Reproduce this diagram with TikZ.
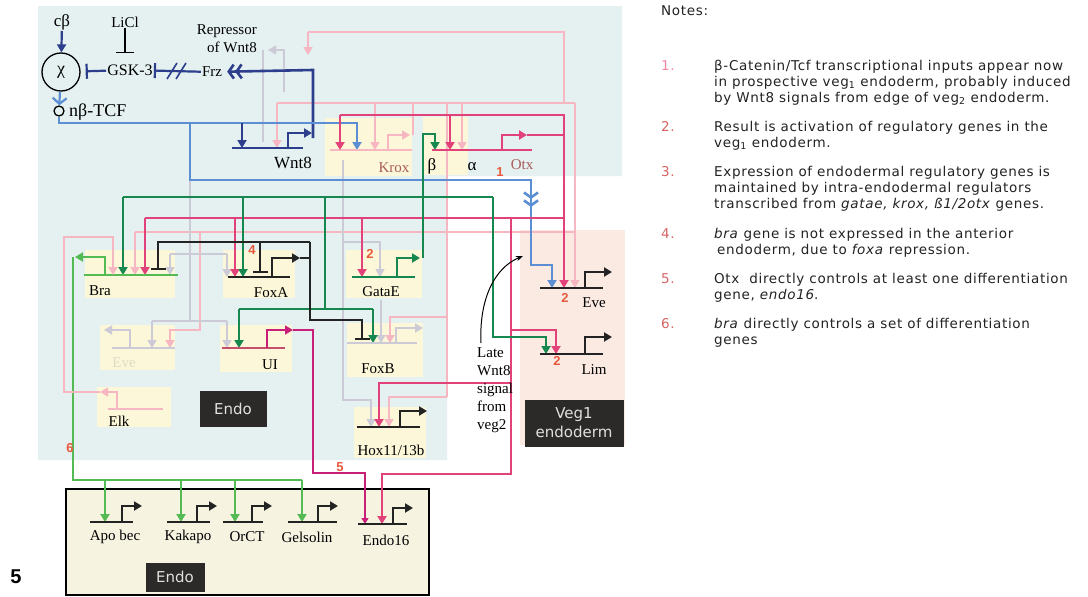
\documentclass[tikz,border=0pt]{standalone}
\usepackage{fontspec}
\setmainfont{Liberation Serif}
\newfontfamily\notesfont[LetterSpace=5]{DejaVu Sans}
\newfontfamily\tagfont{DejaVu Sans}
\newfontfamily\figfont{Liberation Sans}
\usetikzlibrary{arrows.meta}

\definecolor{bgcyan}{RGB}{228,241,240}
\definecolor{peach}{RGB}{251,234,226}
\definecolor{genebox}{RGB}{251,247,216}
\definecolor{endofill}{RGB}{246,243,225}
\definecolor{navy}{RGB}{45,62,140}
\definecolor{sky}{RGB}{92,142,212}
\definecolor{dgreen}{RGB}{22,135,78}
\definecolor{lgreen}{RGB}{84,186,84}
\definecolor{rose}{RGB}{226,66,122}
\definecolor{plum}{RGB}{200,32,120}
\definecolor{uiline}{RGB}{196,80,110}
\definecolor{blush}{RGB}{246,182,194}
\definecolor{mist}{RGB}{204,202,214}
\definecolor{evefaint}{RGB}{222,220,200}
\definecolor{numred}{RGB}{232,88,60}
\definecolor{darkbox}{RGB}{43,42,40}
\definecolor{ink}{RGB}{35,35,35}
\definecolor{kroxtxt}{RGB}{170,92,92}
\definecolor{notenum}{RGB}{215,100,100}

\begin{document}
\begin{tikzpicture}[x=1pt,y=-1pt,
    act/.style={-{Triangle[length=8pt,width=9pt]}},
    small act/.style={-{Triangle[length=6pt,width=7pt]}},
    rep/.style={-{Bar[width=15pt]}},
    chev/.style={-{Straight Barb[length=5pt,width=14pt] Straight Barb[length=5pt,width=14pt]}},
    wire/.style={line width=2.2pt},
    thin wire/.style={line width=1.4pt},
    lbl/.style={font=\fontsize{15}{17}\selectfont, inner sep=1pt},
    rednum/.style={font=\figfont\bfseries\fontsize{13}{15}\selectfont, text=numred, inner sep=0pt},
    darktag/.style={fill=darkbox, text=white!88!black, font=\tagfont\fontsize{15}{19}\selectfont, align=center, inner sep=0pt},
    notetext/.style={font=\notesfont\fontsize{13.5}{16}\selectfont, text=ink, align=left, anchor=north west, inner sep=0pt},
    noteno/.style={font=\notesfont\fontsize{13.5}{16}\selectfont, text=notenum, anchor=north west, inner sep=0pt}]

    \useasboundingbox (0,0) rectangle (1088,597);
    \fill[white] (0,0) rectangle (1088,597);

    % fondos
    \fill[bgcyan] (38,6) -- (622,6) -- (622,176) -- (447,176) -- (447,460) -- (38,460) -- cycle;
    \fill[peach] (520,230) rectangle (625,445);
    \draw[line width=1.2pt, fill=endofill] (66,489) rectangle (429,595);

    % cajas de genes
    \foreach \a/\b/\c/\d in {325/118/412/176, 423/117/468/175, 85/250/175/298, 223/250/295/298,
        346/250/422/298, 100/325/175/370, 220/325/292/372, 347/323/423/377, 97/387/171/427, 354/407/426/458}
        \fill[genebox] (\a,\b) rectangle (\c,\d);

    % lineas de los genes
    \coordinate (wnt8) at (232,148);
    \coordinate (krox) at (330,150);
    \coordinate (otx) at (432,150);
    \coordinate (bra) at (84,275);
    \coordinate (foxa) at (228,277);
    \coordinate (gatae) at (352,277);
    \coordinate (evef) at (112,348);
    \coordinate (ui) at (222,348);
    \coordinate (foxb) at (347,343);
    \coordinate (elk) at (108,409);
    \coordinate (hox) at (357,427);
    \coordinate (eve) at (540,288);
    \coordinate (lim) at (540,354);
    \coordinate (apo) at (90,522);
    \coordinate (kak) at (167,522);
    \coordinate (orct) at (223,522);
    \coordinate (gel) at (288,522);
    \coordinate (e16) at (358,524);

    % entradas tenues (rosa claro)
    \draw[thin wire, blush] (308,32) -- (564,32) -- (564,103);
    \draw[thin wire, blush, act] (308,32) -- (308,55);
    \draw[thin wire, blush] (277,103) -- (575,103);
    \draw[thin wire, blush] (413,135) -- (413,103);
    \draw[thin wire, blush, act] (277,103) -- (277,0 |- wnt8);
    \draw[thin wire, blush, act] (375,103) -- (375,0 |- krox);
    \draw[thin wire, blush, act] (462,103) -- (462,0 |- otx);
    \draw[thin wire, blush, act] (575,103) -- (575,0 |- eve);
    \draw[thin wire, blush] (135,232) -- (575,232);
    \draw[thin wire, blush, act] (135,232) -- (135,0 |- bra);
    \draw[thin wire, blush, act] (200,232) -- (200,330) -- (170,330) -- (170,0 |- evef);
    \draw[thin wire, blush] (447,103) -- (447,397);
    \draw[thin wire, blush, act] (447,317) -- (390,317) -- (390,0 |- foxb);
    \draw[thin wire, blush, act] (447,397) -- (389,397) -- (389,0 |- hox);

    % entradas tenues (gris)
    \draw[thin wire, mist] (190,180) -- (190,321);
    \draw[thin wire, mist] (152,321) -- (227,321);
    \draw[thin wire, mist, act] (152,321) -- (152,0 |- evef);
    \draw[thin wire, mist, act] (227,321) -- (227,0 |- ui);
    \draw[thin wire, mist] (170,254) -- (227,254);
    \draw[thin wire, mist, act] (170,254) -- (170,0 |- bra);
    \draw[thin wire, mist, act] (227,254) -- (227,0 |- foxa);
    \draw[thin wire, mist, act] (343,160) -- (343,400) -- (371,400) -- (371,0 |- hox);
    \draw[thin wire, mist, act] (343,242) -- (380,242) -- (380,0 |- gatae);
    \draw[thin wire, mist, act] (381,300) -- (381,0 |- foxb);
    \draw[thin wire, mist, act] (284,92) -- (284,50) -- (268,50);
    \draw[thin wire, mist] (263,50) -- (263,142);

    % cb, GSK-3, Frz
    \node[lbl, font=\fontsize{17}{18}\selectfont] (cb) at (62,22) {cβ};
    \node[circle, draw, line width=1.3pt, minimum size=38pt, inner sep=0pt, font=\fontsize{18}{18}\selectfont] (chi) at (61,72) {χ};
    \draw[wire, navy, act] (cb) -- (chi);
    \node[lbl] (licl) at (125,22) {LiCl};
    \node[lbl, font=\fontsize{16}{17}\selectfont] (gsk) at (130,70) {GSK-3};
    \draw[line width=1.5pt, -{Bar[width=18pt]}] (licl) -- (125,53);
    \draw[wire, navy, rep, shorten >=5pt] (gsk) -- (chi);
    \node[lbl] (frz) at (212,72) {Frz};
    \draw[wire, navy, rep] (frz) -- (gsk);
    \draw[navy, line width=1.6pt] (167,79) -- (177,63) (176,79) -- (186,63);
    \node[lbl, align=right, anchor=north east, font=\fontsize{15}{18}\selectfont] (repr) at (258,23) {Repressor\\of Wnt8};
    \node[circle, draw, line width=1.3pt, minimum size=10pt, inner sep=0pt] (tcfdot) at (59,111) {};
    \node[lbl, anchor=west, font=\fontsize{18}{18}\selectfont] (tcf) at (68,112) {nβ-TCF};
    \draw[wire, sky, -{Straight Barb[length=6pt,width=14pt]}] (chi) -- (tcfdot);

    % Wnt8
    \draw[navy, line width=2.6pt] (wnt8) -- ++(71,0);
    \draw[wire, navy, act] (288,0 |- wnt8) -- ++(0,-15) -- (312,133);
    \draw[navy, line width=2.6pt, chev, shorten >=4pt] (313,138) -- (313,70) -- (frz);
    \node[lbl, font=\fontsize{17}{18}\selectfont] (wnt8lbl) at (293,163) {Wnt8};

    % beta-TCF (azul)
    \draw[sky, line width=2.6pt, act] (tcfdot) |- (357,123) -- (357,0 |- krox);
    \draw[wire, navy, act] (242,123) -- (242,0 |- wnt8);
    \draw[sky, line width=2.6pt, chev] (190,123) -- (190,180) -- (531,180) -- (531,207);
    \draw[sky, line width=2.6pt, act] (531,200) -- (531,265) -- (552,265) -- (552,0 |- eve);

    % Krox
    \draw[line width=2pt, blush] (krox) -- ++(82,0);
    \draw[thin wire, blush, act] (388,0 |- krox) -- ++(0,-15) -- (410,135);
    \node[lbl, text=kroxtxt] (kroxlbl) at (394,168) {Krox};

    % Otx y sus salidas
    \draw[wire, rose] (otx) -- ++(100,0);
    \draw[wire, rose, act] (502,0 |- otx) -- ++(0,-15) -- (527,135);
    \draw[wire, rose] (527,135) -- (564,135) -- (564,115) -- (340,115);
    \draw[wire, rose, act] (564,135) -- (564,0 |- eve);
    \draw[wire, rose, act] (340,115) -- (340,0 |- krox);
    \draw[wire, rose, act] (450,115) -- (450,0 |- otx);
    \draw[wire, rose] (145,218) -- (564,218);
    \draw[wire, rose, act] (145,218) -- (145,0 |- bra);
    \draw[wire, rose, act] (235,218) -- (235,0 |- foxa);
    \draw[wire, rose, act] (362,218) -- (362,0 |- gatae);
    \draw[wire, rose, act] (511,218) -- (511,474) -- (382,474) -- (382,0 |- e16);
    \draw[wire, rose, act] (511,383) -- (379,383) -- (379,0 |- hox);
    \draw[wire, rose, act] (511,330) -- (556,330) -- (556,0 |- lim);
    \node[lbl, font=\fontsize{17}{18}\selectfont] (beta) at (432,166) {β};
    \node[lbl, font=\fontsize{17}{18}\selectfont] (alpha) at (472,167) {α};
    \node[rednum] (n1) at (500,172) {1};
    \node[lbl, text=kroxtxt] (otxlbl) at (522,165) {Otx};

    % GataE (verde)
    \draw[wire, dgreen] (gatae) -- ++(63,0);
    \draw[wire, dgreen, act] (397,0 |- gatae) -- ++(0,-19) -- (420,258);
    \draw[wire, dgreen, act] (423,258) -- (423,134) -- (435,134) -- (435,0 |- otx);
    \draw[wire, dgreen] (123,197) -- (493,197);
    \draw[wire, dgreen, act] (123,197) -- (123,0 |- bra);
    \draw[wire, dgreen, act] (243,197) -- (243,0 |- foxa);
    \draw[wire, dgreen] (325,197) -- (325,309);
    \draw[wire, dgreen] (239,309) -- (373,309);
    \draw[wire, dgreen, act] (239,309) -- (239,0 |- ui);
    \draw[wire, dgreen, act] (373,309) -- (373,0 |- foxb);
    \draw[wire, dgreen, act] (493,197) -- (493,337) -- (546,337) -- (546,0 |- lim);
    \node[lbl] (gatalbl) at (381,292) {GataE};
    \node[rednum] (n2a) at (370,254) {2};

    % FoxA (negro)
    \draw[wire, ink] (foxa) -- ++(62,0);
    \draw[wire, ink, act] (272,0 |- foxa) -- ++(0,-19) -- (300,258);
    \draw[wire, ink] (300,258) -- (310,258);
    \draw[wire, ink, rep] (310,242) -- (158,242) -- (158,270);
    \draw[wire, ink, rep] (260,242) -- (260,273);
    \draw[wire, ink, rep] (310,242) -- (310,320) -- (362,320) -- (362,340);
    \node[rednum] (n4) at (252,250) {4};
    \node[lbl] (foxalbl) at (271,293) {FoxA};

    % Bra y genes de diferenciacion
    \draw[wire, lgreen] (bra) -- ++(94,0);
    \draw[wire, lgreen, act] (105,0 |- bra) -- ++(0,-18) -- (75,257);
    \draw[wire, lgreen] (73,257) -- (73,480) -- (302,480);
    \foreach \x/\g in {105/apo, 181/kak, 235/orct, 302/gel}
        \draw[wire, lgreen, act] (\x,480) -- (\x,0 |- \g);
    \node[lbl] (bralbl) at (100,291) {Bra};
    \node[rednum] (n6) at (70,448) {6};

    % Elk
    \draw[thin wire, blush] (elk) -- ++(55,0);
    \draw[thin wire, blush, act] (117,0 |- elk) -- ++(0,-17) -- (100,392);
    \draw[thin wire, blush, act] (100,392) -- (64,392) -- (64,237) -- (113,237) -- (113,0 |- bra);
    \node[lbl] (elklbl) at (119,421) {Elk};

    % Eve (tenue)
    \draw[thin wire, mist] (evef) -- ++(63,0);
    \draw[thin wire, mist, act] (130,0 |- evef) -- ++(0,-18) -- (104,330);
    \node[lbl, text=evefaint] (evelbl) at (124,363) {Eve};

    % UI
    \draw[line width=1.6pt, uiline] (ui) -- ++(63,0);
    \draw[thin wire, plum, act] (267,0 |- ui) -- ++(0,-18) -- (293,330);
    \draw[thin wire, plum, small act] (293,330) -- (313,330) -- (313,473) -- (365,473) -- (365,0 |- e16);
    \node[lbl] (uilbl) at (270,365) {UI};
    \node[rednum] (n5) at (340,467) {5};

    % FoxB
    \draw[thin wire, mist] (foxb) -- ++(70,0);
    \draw[thin wire, mist, act] (396,0 |- foxb) -- ++(0,-15) -- (423,328);
    \node[lbl] (foxblbl) at (378,369) {FoxB};

    % Hox11/13b
    \draw[wire, ink] (hox) -- ++(63,0);
    \draw[wire, ink, act] (400,0 |- hox) -- ++(0,-16) -- (427,411);
    \node[lbl] (hoxlbl) at (391,450) {Hox11/13b};

    % Veg1: Eve, Lim
    \draw[wire, ink] (eve) -- ++(63,0);
    \draw[wire, ink, act] (585,0 |- eve) -- ++(0,-16) -- (612,272);
    \node[lbl] (vevelbl) at (594,303) {Eve};
    \node[rednum] (n2b) at (565,298) {2};
    \draw[wire, ink] (lim) -- ++(63,0);
    \draw[wire, ink, act] (585,0 |- lim) -- ++(0,-17) -- (612,337);
    \node[lbl] (limlbl) at (594,370) {Lim};
    \node[rednum] (n2c) at (557,361) {2};

    % genes de diferenciacion
    \foreach \g/\a/\b/\p in {apo/90/133/122, kak/167/210/197, orct/223/263/252, gel/288/337/318, e16/358/407/393} {
        \draw[wire, ink] (\a,0 |- \g) -- (\b,0 |- \g);
        \draw[wire, ink, act] (\p,0 |- \g) -- ++(0,-16) -- ++(20,0);
    }
    \node[lbl] (apolbl) at (115,537) {Apo bec};
    \node[lbl] (kaklbl) at (188,537) {Kakapo};
    \node[lbl] (orctlbl) at (247,537) {OrCT};
    \node[lbl] (gellbl) at (307,537) {Gelsolin};
    \node[lbl] (e16lbl) at (386,540) {Endo16};

    % etiquetas oscuras
    \node[darktag, minimum width=67pt, minimum height=36pt] (endotag) at (233,409) {Endo};
    \node[darktag, minimum width=99pt, minimum height=47pt] (vegtag) at (574,423) {Veg1\\endoderm};
    \node[darktag, minimum width=59pt, minimum height=29pt] (endotag2) at (175,577) {Endo};

    % senal tardia
    \node[lbl, align=left, anchor=north west, font=\fontsize{15}{18}\selectfont] (late) at (476,346) {Late\\Wnt8\\signal\\from\\veg2};
    \coordinate (sigtip) at (523,256);
    \draw[-{Stealth[length=7pt]}, line width=1pt] (481,343) .. controls (479,300) and (494,268) .. (sigtip);

    \node[font=\figfont\bfseries\fontsize{20}{22}\selectfont] (fig) at (16,577) {5};

    % notas
    \node[notetext] (notes) at (661,5) {Notes:};
    \node[noteno, text=blush!60!rose] (i1) at (661,60) {1.};
    \node[notetext] (t1) at (714,60) {β-Catenin/Tcf transcriptional inputs appear now\\in prospective veg\textsubscript{1} endoderm, probably induced\\by Wnt8 signals from edge of veg\textsubscript{2} endoderm.};
    \node[noteno] (i2) at (661,121) {2.};
    \node[notetext] (t2) at (714,121) {Result is activation of regulatory genes in the\\veg\textsubscript{1} endoderm.};
    \node[noteno] (i3) at (661,166) {3.};
    \node[notetext] (t3) at (714,166) {Expression of endodermal regulatory genes is\\maintained by intra-endodermal regulators\\transcribed from \textit{gatae, krox, ß1/2otx} genes.};
    \node[noteno] (i4) at (661,228) {4.};
    \node[notetext] (t4) at (714,228) {\textit{bra} gene is not expressed in the anterior\\\hspace*{3pt}endoderm, due to \textit{foxa} repression.};
    \node[noteno] (i5) at (661,273) {5.};
    \node[notetext] (t5) at (714,273) {Otx\ \ directly controls at least one differentiation\\gene, \textit{endo16}.};
    \node[noteno] (i6) at (661,318) {6.};
    \node[notetext] (t6) at (714,318) {\textit{bra} directly controls a set of differentiation\\genes};
\end{tikzpicture}
\end{document}
